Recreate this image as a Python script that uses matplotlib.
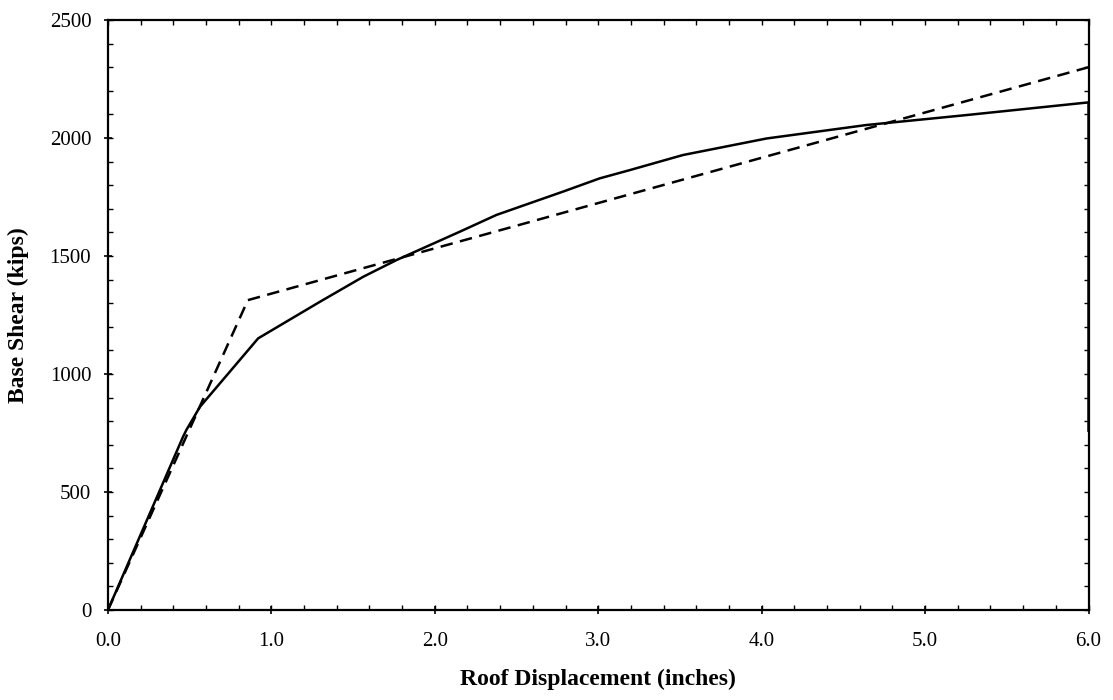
import matplotlib
matplotlib.use('Agg')
from matplotlib import pyplot as plt
from matplotlib.ticker import MultipleLocator, FormatStrFormatter

# pushover curve (solid)
curve_disp = [0.0, 0.46, 0.48, 0.563, 0.746, 0.919, 1.297, 1.562, 1.766, 2.153, 2.377,
              2.785, 3.009, 3.193, 3.519, 4.03, 4.64, 5.25, 6.0, 6.0]
curve_shear = [0, 735, 763, 861, 1010, 1151, 1306, 1412, 1483, 1603, 1674,
               1773, 1829, 1864, 1928, 1998, 2055, 2097, 2151, 760]

# bilinear idealization (dashed)
bilin_disp = [0.0, 0.856, 6.0]
bilin_shear = [0, 1313, 2300]

plt.rcParams['font.family'] = ['Liberation Serif', 'DejaVu Serif']

fig = plt.figure(figsize=(11.13, 7.0), dpi=100)
ax = fig.add_axes([0.097, 0.1286, 0.881, 0.8428])

ax.plot(curve_disp, curve_shear, color='black', linewidth=1.8)
ax.plot(bilin_disp, bilin_shear, color='black', linewidth=1.8, linestyle=(0, (5, 3)))

ax.set_xlim(0, 6)
ax.set_ylim(0, 2500)
ax.xaxis.set_major_locator(MultipleLocator(1.0))
ax.xaxis.set_minor_locator(MultipleLocator(0.2))
ax.yaxis.set_major_locator(MultipleLocator(500))
ax.yaxis.set_minor_locator(MultipleLocator(100))
ax.xaxis.remove_overlapping_locs = False
ax.yaxis.remove_overlapping_locs = False
ax.xaxis.set_major_formatter(FormatStrFormatter('%.1f'))

ax.tick_params(which='major', direction='inout', length=6, width=1.2, labelsize=15)
ax.tick_params(which='minor', direction='in', length=3.5, width=1.0,
               top=True, right=True)
ax.tick_params(axis='x', which='major', pad=13)
ax.tick_params(axis='y', which='major', pad=9)

for s in ax.spines.values():
    s.set_linewidth(1.6)

ax.set_xlabel('Roof Displacement (inches)', fontsize=17, fontweight='bold', labelpad=13)
ax.set_ylabel('Base Shear (kips)', fontsize=17, fontweight='bold', labelpad=15)

fig.savefig('out.png', dpi=100)
